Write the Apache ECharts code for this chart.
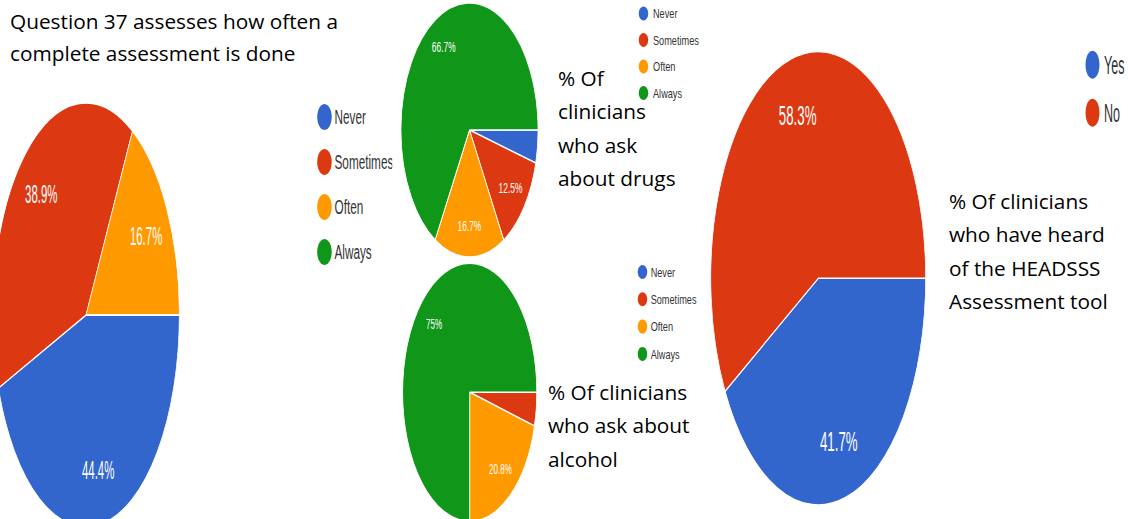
<!DOCTYPE html>
<html>
<head>
<meta charset="utf-8">
<script src="https://cdn.jsdelivr.net/npm/echarts@6/dist/echarts.min.js"></script>
<style>
  html, body { margin: 0; padding: 0; background: #fff; }
  #stage { position: relative; width: 1128px; height: 519px; overflow: hidden; background: #fff; }
  .panel { position: absolute; overflow: hidden; transform-origin: 0 0; }
  #captions { position: absolute; left: 0; top: 0; width: 1128px; height: 519px; pointer-events: none; z-index: 10; }
</style>
</head>
<body>
<div id="stage">
  <div id="p1" class="panel"></div>
  <div id="p2" class="panel"></div>
  <div id="p3" class="panel"></div>
  <div id="p4" class="panel"></div>
  <div id="l1" class="panel"></div>
  <div id="l2" class="panel"></div>
  <div id="l3" class="panel"></div>
  <div id="l4" class="panel"></div>
  <div id="captions"></div>
</div>
<script>
// ---------- data ----------
const frequencyCategories = ['Never', 'Sometimes', 'Often', 'Always'];
const completeAssessmentValues = [44.4, 38.9, 16.7, 0];   // Question 37
const askDrugsValues = [4.2, 12.5, 16.7, 66.7];
const askAlcoholValues = [0, 4.2, 20.8, 75];
const heardCategories = ['Yes', 'No'];
const heardHeadsssValues = [41.7, 58.3];

const captionQ37 = ['Question 37 assesses how often a', 'complete assessment is done'];
const captionDrugs = ['% Of', 'clinicians', 'who ask', 'about drugs'];
const captionAlcohol = ['% Of clinicians', 'who ask about', 'alcohol'];
const captionHeadsss = ['% Of clinicians', 'who have heard', 'of the HEADSSS', 'Assessment tool'];

const palette = ['#3366cc', '#dc3912', '#ff9900', '#109618'];
const chartFont = '"Liberation Sans", Arial, sans-serif';

// ---------- layout (geometry in unscaled panel px) ----------
const pies = [
  { id: 'p1', cats: frequencyCategories, vals: completeAssessmentValues,
    left: -40, top: 0, scale: 0.44, w: 982, h: 519, cx: 286.4, cy: 315, r: 212, labelSize: 26 },
  { id: 'p2', cats: frequencyCategories, vals: askDrugsValues,
    left: 395, top: 0, scale: 0.54, w: 559, h: 262, cx: 138, cy: 130, r: 127, labelSize: 15.5 },
  { id: 'p3', cats: frequencyCategories, vals: askAlcoholValues,
    left: 395, top: 258, scale: 0.52, w: 596, h: 261, cx: 143.7, cy: 134.3, r: 129, labelSize: 15.5 },
  { id: 'p4', cats: heardCategories, vals: heardHeadsssValues,
    left: 700, top: 0, scale: 0.474, w: 903, h: 519, cx: 249.4, cy: 278.3, r: 226.7, labelSize: 28 }
];
const legends = [
  { id: 'l1', cats: frequencyCategories, vals: completeAssessmentValues,
    left: 315, top: 0, scale: 0.56, w: 137.5, h: 300, lx: 3.9, ly: 104, size: 26, gap: 19, font: 21, pad: 0 },
  { id: 'l2', cats: frequencyCategories, vals: askDrugsValues,
    left: 636, top: 0, scale: 0.68, w: 100, h: 120, lx: 4, ly: 6.5, size: 14, gap: 12.5, font: 13.5, pad: 2 },
  { id: 'l3', cats: frequencyCategories, vals: askAlcoholValues,
    left: 635, top: 258, scale: 0.68, w: 110, h: 120, lx: 4, ly: 7, size: 14, gap: 13.3, font: 13.5, pad: 0 },
  { id: 'l4', cats: heardCategories, vals: heardHeadsssValues,
    left: 1083, top: 0, scale: 0.5, w: 90, h: 160, lx: 5, ly: 50.7, size: 28, gap: 20, font: 25, pad: 4 }
];

function fmtPct(v) { return parseFloat(v.toFixed(1)) + '%'; }

function placeDiv(p) {
  const el = document.getElementById(p.id);
  el.style.left = p.left + 'px';
  el.style.top = p.top + 'px';
  el.style.width = p.w + 'px';
  el.style.height = p.h + 'px';
  el.style.transform = 'scaleX(' + p.scale + ')';
  return echarts.init(el, null, { renderer: 'svg', width: p.w, height: p.h });
}

pies.forEach(function (p) {
  const chart = placeDiv(p);
  const sliceData = p.cats.map(function (c, i) { return { name: c, value: p.vals[i] }; });
  const labelData = p.cats.map(function (c, i) {
    return { name: c, value: p.vals[i], label: { show: p.vals[i] >= 5 } };
  });
  chart.setOption({
    animation: false,
    color: palette,
    series: [
      {
        type: 'pie',
        center: [p.cx, p.cy],
        radius: p.r,
        startAngle: 0,
        clockwise: true,
        silent: true,
        label: { show: false },
        labelLine: { show: false },
        itemStyle: { borderColor: '#ffffff', borderWidth: 1.5 },
        emphasis: { disabled: true },
        data: sliceData
      },
      {
        // transparent helper ring: places percentage labels at ~73% of the radius
        type: 'pie',
        center: [p.cx, p.cy],
        radius: p.r * 1.46,
        startAngle: 0,
        clockwise: true,
        silent: true,
        itemStyle: { color: 'rgba(0,0,0,0)', borderWidth: 0 },
        emphasis: { disabled: true },
        labelLine: { show: false },
        label: {
          position: 'inside',
          color: '#ffffff',
          fontFamily: chartFont,
          fontSize: p.labelSize,
          formatter: function (q) { return fmtPct(q.value); }
        },
        data: labelData
      }
    ]
  });
});

legends.forEach(function (p) {
  const chart = placeDiv(p);
  chart.setOption({
    animation: false,
    color: palette,
    legend: {
      orient: 'vertical',
      left: p.lx,
      top: p.ly,
      padding: 0,
      icon: 'circle',
      itemWidth: p.size,
      itemHeight: p.size,
      itemGap: p.gap,
      selectedMode: false,
      data: p.cats,
      textStyle: {
        fontFamily: chartFont,
        fontSize: p.font,
        color: '#333',
        padding: [0, 0, 0, p.pad]
      }
    },
    series: [{
      // legend source; the pie itself sits outside the visible box
      type: 'pie',
      center: [-500, -500],
      radius: 1,
      silent: true,
      label: { show: false },
      data: p.cats.map(function (c, i) { return { name: c, value: p.vals[i] }; })
    }]
  });
});

// ---------- captions (unscaled) ----------
const capChart = echarts.init(document.getElementById('captions'), null, { renderer: 'svg', width: 1128, height: 519 });
function cap(lines, left, top, size, lh) {
  return {
    text: lines.join('\n'), left: left, top: top, padding: 0,
    textStyle: { fontFamily: '"Open Sans", Lato, sans-serif', fontWeight: 'normal', fontSize: size, lineHeight: lh, color: '#000' }
  };
}
capChart.setOption({
  animation: false,
  title: [
    cap(captionQ37, 10, 5, 20.8, 32),
    cap(captionDrugs, 558, 61.5, 20.8, 33.3),
    cap(captionAlcohol, 548, 375, 20.8, 33.5),
    cap(captionHeadsss, 949, 184, 20.8, 33.5)
  ]
});
</script>
</body>
</html>
